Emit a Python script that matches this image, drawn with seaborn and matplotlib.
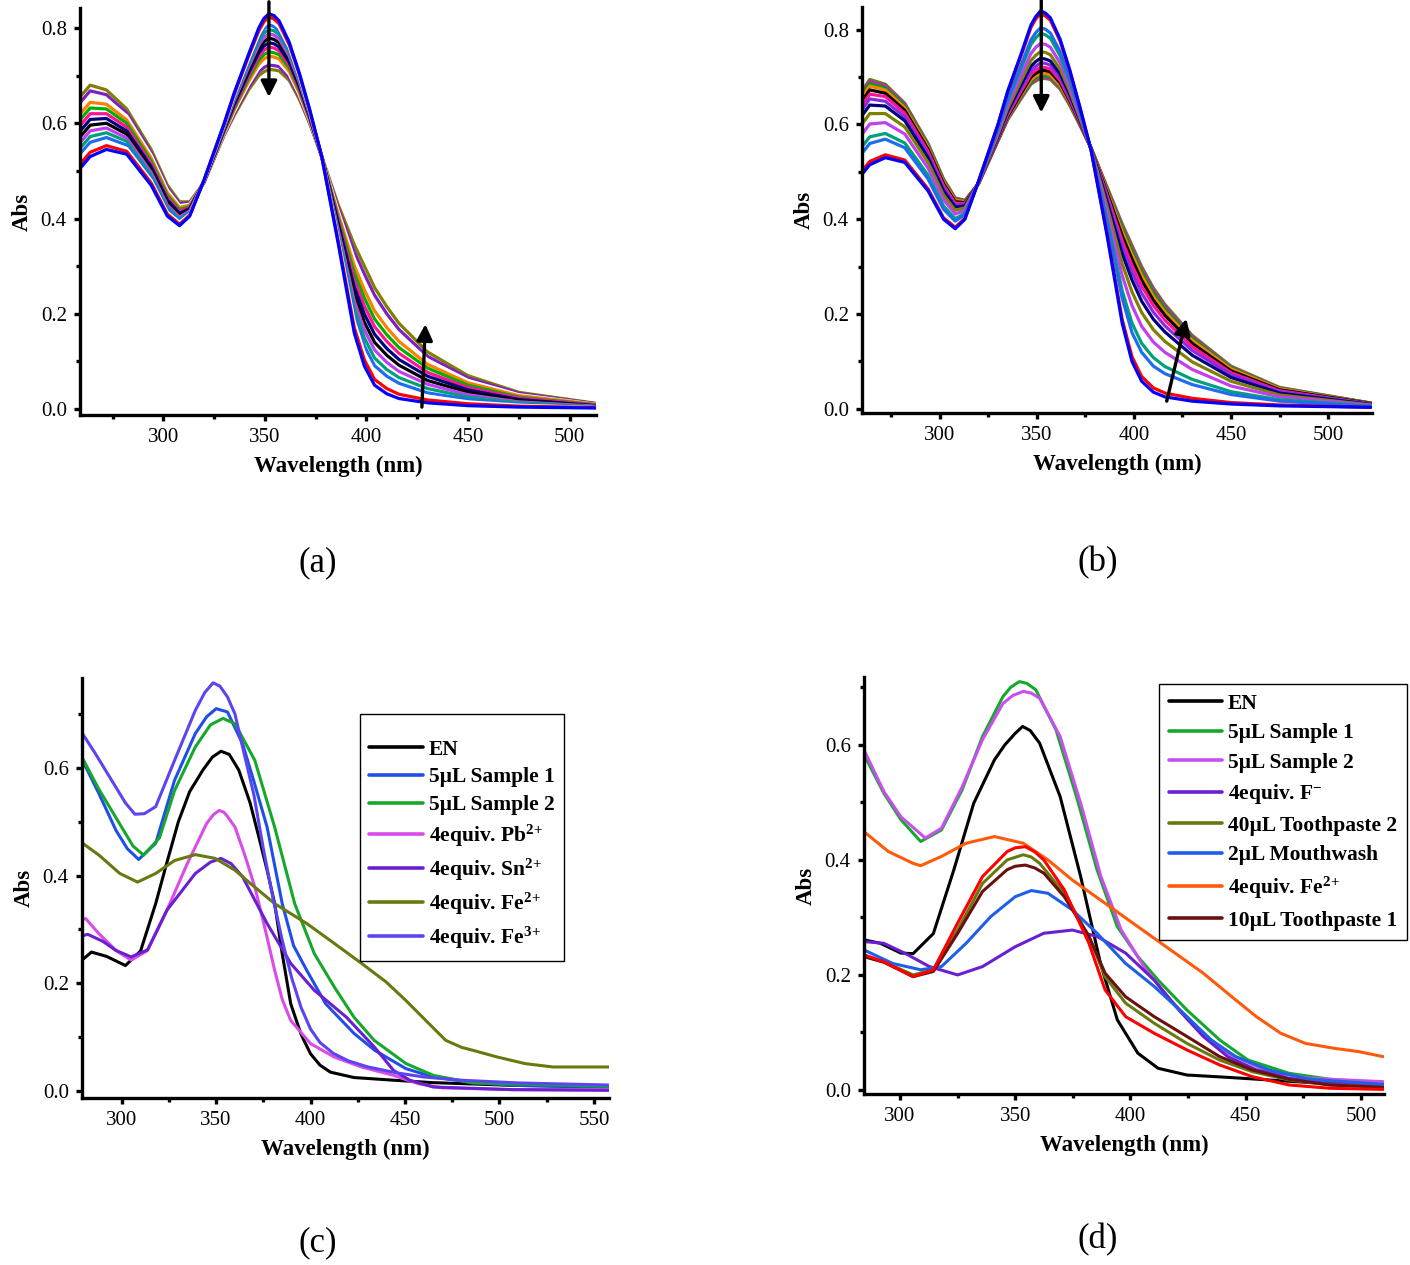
import numpy as np
import pandas as pd
import seaborn as sns
import matplotlib
matplotlib.use('Agg')
import matplotlib.pyplot as plt
from matplotlib.ticker import MultipleLocator, FormatStrFormatter
from matplotlib.lines import Line2D

# %% ---------------------------- data ----------------------------
# (a) titration series, one row per spectrum, values at wl_a
wl_a = [259, 264, 272, 282, 294, 302, 308, 313, 320, 330, 335, 342, 347, 349.5, 352, 354.5, 357,
        362, 367, 372, 378, 386, 394, 399, 404, 410, 416, 430, 450, 475, 513]
titration_a = [
    [.505, .530, .545, .535, .470, .405, .385, .405, .480, .600, .665, .745, .800, .820, .830, .826, .815, .770, .705, .630, .530, .350, .160, .090, .050, .032, .022, .013, .007, .004, .002],
    [.514, .539, .553, .541, .475, .409, .388, .407, .480, .599, .662, .741, .794, .813, .823, .819, .809, .765, .702, .628, .530, .355, .171, .103, .062, .043, .031, .019, .011, .006, .003],
    [.525, .550, .561, .547, .480, .413, .392, .409, .479, .597, .659, .735, .787, .805, .815, .811, .801, .760, .698, .626, .530, .360, .184, .117, .077, .056, .043, .027, .015, .008, .003],
    [.535, .560, .570, .554, .485, .418, .395, .411, .479, .595, .655, .730, .780, .798, .807, .803, .794, .754, .694, .624, .530, .366, .197, .132, .091, .069, .054, .034, .020, .010, .004],
    [.547, .572, .580, .562, .491, .423, .399, .413, .479, .593, .652, .724, .772, .789, .797, .794, .786, .748, .690, .622, .530, .372, .212, .149, .107, .083, .066, .043, .025, .013, .005],
    [.559, .584, .590, .569, .497, .428, .403, .416, .478, .591, .648, .718, .764, .780, .788, .785, .777, .741, .685, .619, .530, .379, .227, .166, .124, .098, .079, .052, .030, .015, .006],
    [.571, .596, .600, .577, .503, .434, .407, .418, .478, .589, .644, .712, .756, .771, .779, .776, .769, .735, .681, .617, .530, .385, .241, .182, .140, .113, .092, .060, .035, .018, .006],
    [.583, .608, .610, .584, .509, .439, .411, .421, .477, .587, .640, .706, .748, .762, .769, .767, .760, .728, .676, .614, .530, .392, .256, .199, .157, .127, .104, .069, .040, .020, .007],
    [.595, .620, .620, .592, .515, .444, .415, .423, .477, .585, .636, .700, .740, .753, .760, .758, .752, .722, .672, .612, .530, .398, .271, .216, .173, .142, .117, .077, .045, .023, .008],
    [.607, .632, .630, .600, .521, .449, .419, .425, .477, .583, .632, .694, .732, .744, .750, .748, .744, .716, .668, .610, .530, .404, .286, .233, .189, .156, .129, .086, .050, .025, .009],
    [.619, .644, .640, .607, .527, .454, .423, .428, .476, .581, .629, .688, .724, .735, .741, .739, .735, .709, .663, .607, .530, .411, .301, .250, .206, .171, .142, .094, .055, .028, .010],
    [.631, .656, .650, .615, .533, .460, .427, .430, .476, .579, .625, .682, .716, .726, .732, .730, .727, .703, .659, .605, .530, .417, .315, .266, .222, .186, .155, .103, .060, .030, .010],
    [.643, .668, .660, .622, .539, .465, .431, .433, .475, .577, .621, .676, .708, .717, .722, .721, .719, .696, .654, .602, .530, .424, .330, .283, .239, .200, .167, .111, .065, .033, .011],
    [.655, .680, .670, .630, .545, .470, .435, .435, .475, .575, .617, .670, .700, .708, .713, .712, .710, .690, .650, .600, .530, .430, .345, .300, .255, .215, .180, .120, .070, .035, .012],
]
colors_a = ['#0000ff', '#ff0000', '#ffffff', '#1e6cf0', '#00a07a', '#c040f0', '#000000',
            '#000080', '#ff1493', '#00b000', '#ff7f00', '#ffffff', '#8020c0', '#808000']

# (b) titration series
wl_b = [259, 264, 272, 282, 294, 302, 308, 313, 320, 330, 335, 342, 347, 349.5, 352, 354.5, 357,
        362, 367, 372, 378, 386, 394, 399, 404, 410, 416, 430, 450, 475, 522]
titration_b = [
    [.490, .515, .530, .520, .460, .400, .380, .400, .480, .600, .670, .750, .810, .828, .840, .835, .825, .780, .715, .640, .545, .370, .180, .100, .058, .035, .025, .016, .010, .006, .003],
    [.497, .522, .536, .525, .464, .403, .383, .402, .480, .599, .668, .746, .805, .823, .834, .829, .820, .776, .712, .638, .545, .374, .188, .110, .068, .044, .033, .022, .013, .008, .003],
    [.534, .560, .569, .551, .485, .421, .396, .410, .479, .591, .655, .726, .779, .794, .804, .801, .793, .754, .696, .630, .546, .395, .233, .161, .119, .090, .074, .051, .030, .016, .005],
    [.548, .574, .581, .561, .493, .428, .401, .413, .478, .588, .650, .719, .769, .783, .793, .789, .782, .745, .690, .627, .547, .403, .249, .181, .138, .108, .089, .062, .036, .019, .006],
    [.574, .601, .604, .580, .508, .441, .411, .419, .478, .583, .641, .704, .750, .763, .771, .769, .763, .730, .679, .621, .547, .418, .281, .218, .174, .141, .119, .083, .048, .025, .007],
    [.595, .623, .623, .595, .520, .451, .419, .424, .477, .579, .634, .693, .735, .746, .754, .752, .747, .717, .670, .616, .548, .430, .306, .247, .203, .167, .142, .099, .058, .029, .008],
    [.613, .641, .639, .608, .530, .460, .426, .428, .477, .576, .628, .684, .723, .733, .740, .738, .734, .707, .663, .612, .549, .440, .327, .272, .227, .189, .162, .113, .066, .033, .009],
    [.625, .654, .649, .616, .537, .465, .430, .431, .476, .573, .624, .677, .714, .723, .730, .729, .725, .699, .657, .609, .549, .447, .342, .289, .244, .204, .175, .123, .072, .036, .010],
    [.635, .664, .659, .624, .543, .471, .434, .433, .476, .571, .620, .671, .706, .715, .721, .720, .717, .693, .653, .607, .549, .453, .354, .303, .259, .218, .187, .131, .076, .038, .010],
    [.644, .673, .666, .630, .548, .475, .437, .435, .476, .569, .617, .666, .700, .708, .714, .714, .711, .688, .649, .605, .549, .458, .365, .316, .271, .229, .197, .138, .080, .040, .011],
    [.651, .681, .673, .635, .552, .478, .440, .437, .475, .568, .615, .663, .695, .703, .708, .708, .705, .683, .646, .603, .550, .462, .373, .325, .281, .237, .204, .144, .084, .042, .011],
    [.656, .686, .677, .639, .555, .481, .442, .438, .475, .567, .613, .660, .691, .699, .704, .704, .702, .680, .644, .602, .550, .465, .380, .333, .288, .244, .210, .148, .086, .043, .012],
    [.662, .691, .682, .643, .558, .483, .444, .439, .475, .566, .611, .657, .688, .695, .700, .700, .698, .677, .642, .601, .550, .468, .386, .340, .295, .251, .216, .152, .088, .044, .012],
    [.665, .695, .685, .645, .560, .485, .445, .440, .475, .565, .610, .655, .685, .692, .697, .697, .695, .675, .640, .600, .550, .470, .390, .345, .300, .255, .220, .155, .090, .045, .012],
]
colors_b = ['#0000ff', '#ff0000', '#1e6cf0', '#00a07a', '#c040f0', '#808000', '#000080',
            '#8a2be2', '#ff1493', '#000000', '#ff7f00', '#00a000', '#b030b0', '#6b7a12']

# (c) selectivity spectra
c_en_wl = [277, 284, 292, 302, 310, 318, 324, 330, 336, 343, 348, 352.6, 357, 362, 368, 372.6, 377, 381,
           385, 389.5, 395, 400, 405, 410.5, 423, 444, 465, 507, 559]
c_en_abs = [0.237, 0.258, 0.250, 0.233, 0.260, 0.348, 0.425, 0.500, 0.556, 0.596, 0.620, 0.631, 0.625,
            0.596, 0.535, 0.472, 0.410, 0.348, 0.255, 0.162, 0.105, 0.069, 0.048, 0.035, 0.025, 0.020,
            0.0155, 0.0105, 0.0074]
c_s1_wl = [277, 288, 297, 303, 309, 318, 328, 339, 345, 350, 356, 364, 370, 377, 385, 391, 398, 408, 423,
           434, 450.5, 465, 486, 507, 559]
c_s1_abs = [0.630, 0.552, 0.484, 0.450, 0.430, 0.460, 0.577, 0.664, 0.695, 0.710, 0.704, 0.645, 0.575, 0.490,
            0.348, 0.270, 0.224, 0.162, 0.107, 0.0755, 0.0415, 0.026, 0.0155, 0.0105, 0.0074]
c_s2_wl = [277, 288, 300, 306, 311.6, 320, 328, 339, 347, 353.7, 360, 370.5, 381, 391.6, 402, 412.6, 423,
           433.7, 450.5, 465, 486, 559]
c_s2_abs = [0.633, 0.560, 0.490, 0.455, 0.438, 0.470, 0.558, 0.639, 0.680, 0.692, 0.682, 0.614, 0.490, 0.348,
            0.255, 0.193, 0.137, 0.094, 0.051, 0.029, 0.0149, 0.0087]
c_pb_wl = [277, 281, 288, 297, 305, 313.7, 324, 334.7, 345, 348.5, 351.6, 354, 356, 360, 365, 370.5, 376,
           381, 385, 389.5, 400, 412.6, 427, 444, 457, 469.5, 507, 559]
c_pb_abs = [0.317, 0.320, 0.292, 0.261, 0.243, 0.261, 0.336, 0.422, 0.497, 0.513, 0.521, 0.518, 0.510, 0.490,
            0.440, 0.379, 0.300, 0.224, 0.170, 0.131, 0.088, 0.063, 0.0446, 0.029, 0.0136, 0.006, 0.0025, 0.0025]
c_sn_wl = [277, 282, 290, 297, 305, 313.7, 324, 339, 347, 352.6, 358, 364, 377, 389.5, 402, 419, 433.7,
           444, 452.6, 465, 507, 559]
c_sn_abs = [0.286, 0.291, 0.278, 0.261, 0.249, 0.262, 0.336, 0.404, 0.425, 0.432, 0.422, 0.398, 0.311, 0.237,
            0.187, 0.137, 0.082, 0.038, 0.020, 0.0074, 0.0025, 0.0012]
c_fe2_wl = [277, 288, 299, 308.4, 318, 328, 339, 349.5, 360, 370, 381, 398, 412.6, 427, 440, 450.5, 461,
            471.6, 480, 486, 499, 513.7, 528.4, 559]
c_fe2_abs = [0.466, 0.438, 0.404, 0.388, 0.404, 0.428, 0.439, 0.432, 0.410, 0.380, 0.348, 0.311, 0.274, 0.237,
             0.2025, 0.168, 0.131, 0.094, 0.081, 0.0755, 0.063, 0.0508, 0.0446, 0.0446]
c_fe3_wl = [277, 286, 294.7, 302, 307, 312, 318, 328, 339, 344, 348.4, 352, 356, 360, 364, 370, 375, 380,
            385, 390, 395, 400, 405, 412, 420, 430, 445, 460, 480, 510, 559]
c_fe3_abs = [0.676, 0.627, 0.577, 0.535, 0.514, 0.515, 0.528, 0.614, 0.707, 0.740, 0.758, 0.752, 0.732, 0.700,
             0.639, 0.550, 0.450, 0.360, 0.280, 0.210, 0.155, 0.115, 0.090, 0.070, 0.056, 0.045, 0.034, 0.026,
             0.020, 0.015, 0.011]

# (d) real sample spectra
d_en_wl = [284.4, 291.5, 300.4, 305.7, 314.5, 323.4, 332, 341, 345.5, 350, 353.2, 356.5, 360.6, 369.5, 378.4,
           387, 394.3, 403.2, 412, 424.5, 442, 460, 477.7, 509.6]
d_en_abs = [0.261, 0.255, 0.238, 0.237, 0.272, 0.383, 0.4985, 0.574, 0.600, 0.620, 0.632, 0.625, 0.603, 0.510,
            0.371, 0.220, 0.122, 0.064, 0.0377, 0.026, 0.022, 0.0174, 0.0128, 0.0087]
d_s1_wl = [284.4, 293, 300.4, 309, 318, 327, 335.8, 344.7, 348, 351.8, 355, 358.9, 367.7, 376.6, 385.5, 394.3,
           403.2, 412, 424.5, 438.7, 451, 468.8, 486.5, 509.6]
d_s1_abs = [0.583, 0.516, 0.470, 0.432, 0.452, 0.522, 0.6145, 0.684, 0.700, 0.710, 0.707, 0.696, 0.626, 0.510,
            0.383, 0.284, 0.232, 0.191, 0.139, 0.087, 0.052, 0.029, 0.0186, 0.0116]
d_s2_wl = [284.4, 293, 300.4, 311, 318, 327, 335.8, 344.7, 349, 353.5, 357, 360.6, 369.5, 378.4, 387.2, 396,
           406.7, 417.4, 429.8, 442.2, 460, 477.7, 509.6]
d_s2_abs = [0.591, 0.519, 0.475, 0.438, 0.455, 0.527, 0.609, 0.672, 0.686, 0.693, 0.690, 0.681, 0.6145, 0.4985,
            0.371, 0.278, 0.209, 0.1565, 0.104, 0.0638, 0.0319, 0.0203, 0.0145]
d_f_wl = [284.4, 293, 302, 312.8, 325, 335.8, 350, 362.4, 374.8, 385.5, 397.9, 410.3, 421, 431.6, 442.2,
          454.6, 468.8, 486.5, 509.6]
d_f_abs = [0.258, 0.255, 0.238, 0.2145, 0.200, 0.2145, 0.249, 0.2725, 0.278, 0.267, 0.238, 0.191, 0.139, 0.093,
           0.058, 0.035, 0.0203, 0.0116, 0.007]
d_tp2_wl = [284.4, 293, 305.7, 314.5, 325, 335.8, 346.5, 353.5, 357, 360.6, 371.3, 382, 389, 397.9, 410.3,
            424.5, 438.7, 452.8, 468.8, 486.5, 509.6]
d_tp2_abs = [0.232, 0.223, 0.200, 0.209, 0.278, 0.359, 0.400, 0.409, 0.405, 0.394, 0.342, 0.267, 0.197, 0.151,
             0.116, 0.081, 0.052, 0.0319, 0.0174, 0.0087, 0.0058]
d_mw_wl = [284.4, 296.8, 309, 318, 328.7, 339.4, 350, 357, 364.2, 374.8, 385.5, 397.9, 410.3, 424.5, 435,
           445.7, 460, 477.7, 509.6]
d_mw_abs = [0.2435, 0.220, 0.209, 0.2145, 0.255, 0.3015, 0.336, 0.3467, 0.342, 0.313, 0.2725, 0.220, 0.180,
            0.1275, 0.087, 0.058, 0.0348, 0.0186, 0.0099]
d_fe2_wl = [284.4, 295, 305.7, 309, 318, 328.7, 341, 353.5, 364.2, 374.8, 389, 403.2, 417.4, 431.6, 444,
            454.6, 465.2, 475.9, 488.3, 499, 509.6]
d_fe2_abs = [0.449, 0.4145, 0.394, 0.390, 0.406, 0.429, 0.4406, 0.429, 0.400, 0.365, 0.3246, 0.284, 0.2435,
             0.203, 0.162, 0.1275, 0.0986, 0.081, 0.0725, 0.0667, 0.058]
d_tp1_wl = [284.4, 293, 305.7, 314.5, 325, 335.8, 346.5, 350, 354.4, 358.5, 362.4, 371.3, 382, 389, 397.9,
            410.3, 424.5, 438.7, 452.8, 468.8, 486.5, 509.6]
d_tp1_abs = [0.232, 0.222, 0.197, 0.206, 0.272, 0.345, 0.383, 0.389, 0.391, 0.386, 0.377, 0.336, 0.267, 0.203,
             0.162, 0.1275, 0.093, 0.058, 0.035, 0.0186, 0.0087, 0.0046]
d_red_wl = d_tp1_wl
d_red_abs = [0.235, 0.223, 0.197, 0.209, 0.290, 0.371, 0.4145, 0.421, 0.423, 0.414, 0.400, 0.348, 0.255,
             0.174, 0.1275, 0.0986, 0.0696, 0.0435, 0.0232, 0.0087, 0.003, 0.001]

# %% ---------------------------- style ----------------------------
sns.set_style('ticks')
plt.rcParams['font.family'] = ['Liberation Serif', 'DejaVu Serif']
plt.rcParams['mathtext.fontset'] = 'custom'
plt.rcParams['mathtext.rm'] = 'Liberation Serif:bold'
plt.rcParams['mathtext.bf'] = 'Liberation Serif:bold'
plt.rcParams['mathtext.default'] = 'bf'
for k in ['text.color', 'axes.labelcolor', 'xtick.color', 'ytick.color', 'axes.edgecolor']:
    plt.rcParams[k] = 'black'


def style_axes(ax, xlim, ylim):
    ax.set_xlim(*xlim)
    ax.set_ylim(*ylim)
    ax.xaxis.set_major_locator(MultipleLocator(50))
    ax.xaxis.set_minor_locator(MultipleLocator(25))
    ax.yaxis.set_major_locator(MultipleLocator(0.2))
    ax.yaxis.set_minor_locator(MultipleLocator(0.1))
    ax.yaxis.set_major_formatter(FormatStrFormatter('%.1f'))
    for s in ['top', 'right']:
        ax.spines[s].set_visible(False)
    for s in ['left', 'bottom']:
        ax.spines[s].set_linewidth(2.4)
        ax.spines[s].set_color('black')
    ax.tick_params(which='major', direction='out', length=4.5, width=2.4, labelsize=15, pad=5,
                   color='black', labelcolor='black')
    ax.tick_params(which='minor', direction='out', length=3, width=2.4, color='black')
    ax.set_xlabel('Wavelength (nm)', fontweight='bold', fontsize=16.5, labelpad=6)
    ax.set_ylabel('Abs', fontweight='bold', fontsize=16.5, labelpad=6)


def titration_plot(ax, wl, rows, colors):
    frames = []
    for i, r in enumerate(rows):
        frames.append(pd.DataFrame({'wl': wl, 'abs': r, 'curve': 'c%02d' % i}))
    df = pd.concat(frames)
    names = ['c%02d' % i for i in range(len(rows))]
    sns.lineplot(data=df, x='wl', y='abs', hue='curve', hue_order=names[::-1],
                 palette=dict(zip(names, colors)), estimator=None, sort=False,
                 legend=False, lw=2.3, ax=ax)


def series_plot(ax, series, lw=2.2):
    frames = []
    for name, wl, ab, col in series:
        frames.append(pd.DataFrame({'wl': wl, 'abs': ab, 'name': name}))
    df = pd.concat(frames)
    sns.lineplot(data=df, x='wl', y='abs', hue='name', hue_order=[s[0] for s in series],
                 palette={s[0]: s[3] for s in series}, estimator=None, sort=False,
                 legend=False, lw=lw, ax=ax)


def arrow(ax, xy, xytext):
    ax.annotate('', xy=xy, xytext=xytext, annotation_clip=False,
                arrowprops=dict(arrowstyle='-|>', lw=2.4, color='black',
                                mutation_scale=24, shrinkA=0, shrinkB=0))


def add_legend(ax, series, anchor, spacing, top_gap=False):
    handles = [Line2D([], [], color=s[3], lw=2.6) for s in series]
    kw = {}
    if top_gap:
        kw = dict(title=' ', title_fontsize=6)
    leg = ax.legend(handles, [s[0] for s in series], loc='upper left', bbox_to_anchor=anchor,
                    borderaxespad=0, prop={'family': 'Liberation Serif', 'weight': 'bold', 'size': 15.5},
                    handlelength=2.5, handletextpad=0.25, labelspacing=spacing, borderpad=0.45,
                    fancybox=False, framealpha=1, edgecolor='black', **kw)
    leg.get_frame().set_linewidth(1.0)


fig = plt.figure(figsize=(14.1, 12.65), dpi=100)
W, H = 1410.0, 1265.0

# %% (a)
ax_a = fig.add_axes([80 / W, 1 - 415 / H, 516 / W, 407 / H])
titration_plot(ax_a, wl_a, titration_a, colors_a)
style_axes(ax_a, (259, 513), (-0.0126, 0.842))
arrow(ax_a, (352, 0.655), (352, 0.855))
arrow(ax_a, (429, 0.178), (427.3, 0.004))

# %% (b)
ax_b = fig.add_axes([862 / W, 1 - 413 / H, 510 / W, 406 / H])
titration_plot(ax_b, wl_b, titration_b, colors_b)
style_axes(ax_b, (260, 522.6), (-0.009, 0.848))
arrow(ax_b, (352.3, 0.625), (352.3, 0.865))
arrow(ax_b, (427, 0.19), (416.9, 0.016))

# %% (c)
ax_c = fig.add_axes([82 / W, 1 - 1098 / H, 527 / W, 420 / H])
series_c = [
    ('EN', c_en_wl, c_en_abs, '#000000'),
    ('5µL Sample 1', c_s1_wl, c_s1_abs, '#1f4fe8'),
    ('5µL Sample 2', c_s2_wl, c_s2_abs, '#16a82a'),
    ('4equiv. Pb$^{2{+}}$', c_pb_wl, c_pb_abs, '#d94ce8'),
    ('4equiv. Sn$^{2{+}}$', c_sn_wl, c_sn_abs, '#6a1fd0'),
    ('4equiv. Fe$^{2{+}}$', c_fe2_wl, c_fe2_abs, '#677a10'),
    ('4equiv. Fe$^{3{+}}$', c_fe3_wl, c_fe3_abs, '#5b45f0'),
]
series_plot(ax_c, series_c)
style_axes(ax_c, (279, 558), (-0.013, 0.767))
add_legend(ax_c, series_c, (0.527, 0.914), 0.36, top_gap=True)

# %% (d)
ax_d = fig.add_axes([864 / W, 1 - 1094 / H, 520 / W, 417 / H])
series_d = [
    ('EN', d_en_wl, d_en_abs, '#000000'),
    ('5µL Sample 1', d_s1_wl, d_s1_abs, '#16a82a'),
    ('5µL Sample 2', d_s2_wl, d_s2_abs, '#c84ef0'),
    ('4equiv. F$^{-}$', d_f_wl, d_f_abs, '#6a1fd0'),
    ('40µL Toothpaste 2', d_tp2_wl, d_tp2_abs, '#677a10'),
    ('2µL Mouthwash', d_mw_wl, d_mw_abs, '#1f5fe8'),
    ('4equiv. Fe$^{2{+}}$', d_fe2_wl, d_fe2_abs, '#ff5a0a'),
    ('10µL Toothpaste 1', d_tp1_wl, d_tp1_abs, '#6b0f0f'),
    ('_red', d_red_wl, d_red_abs, '#ff0000'),
]
series_plot(ax_d, series_d)
style_axes(ax_d, (284.4, 510), (-0.007, 0.718))
add_legend(ax_d, series_d[:-1], (0.567, 0.983), 0.44)

# %% panel letters
for lab, x, y in [('(a)', 318, 563), ('(b)', 1098, 563), ('(c)', 318, 1243), ('(d)', 1098, 1240)]:
    fig.text(x / W, 1 - y / H, lab, ha='center', va='center', fontsize=25)

plt.savefig('out.png', dpi=100)
